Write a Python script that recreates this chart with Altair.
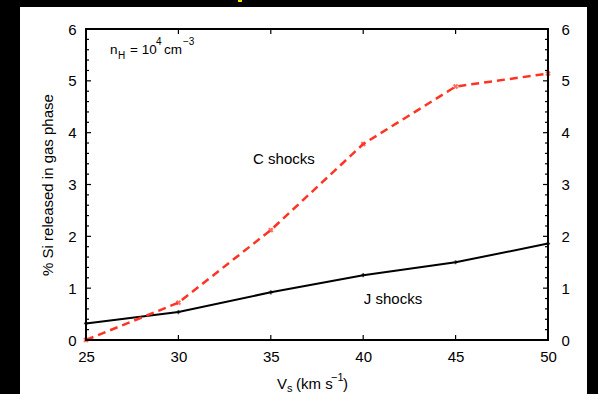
import altair as alt
import pandas as pd

# ---- data ----
vs = [25, 30, 35, 40, 45, 50]
j_shocks = [0.32, 0.54, 0.92, 1.25, 1.50, 1.86]
c_shocks = [0.00, 0.72, 2.12, 3.78, 4.89, 5.14]
x_ticks = [25, 30, 35, 40, 45, 50]
y_major = [0, 1, 2, 3, 4, 5, 6]
y_minor = [0.2, 0.4, 0.6, 0.8, 1.2, 1.4, 1.6, 1.8, 2.2, 2.4, 2.6, 2.8,
           3.2, 3.4, 3.6, 3.8, 4.2, 4.4, 4.6, 4.8, 5.2, 5.4, 5.6, 5.8]
label_text = ["C shocks", "J shocks"]
label_x = [35.71, 41.61]
label_y = [3.49, 0.79]

W, H = 462, 311
F = "Liberation Sans"
RED = "#ff3322"

df = pd.DataFrame({"vs": vs, "j": j_shocks, "c": c_shocks})
xt = pd.DataFrame({"v": x_ticks})
ymaj = pd.DataFrame({"v": y_major})
ymin = pd.DataFrame({"v": y_minor})
labs = pd.DataFrame({"x": label_x, "y": label_y, "t": label_text})
one = pd.DataFrame({"a": [0]})

xs = alt.Scale(domain=[25, 50], nice=False, zero=False)
ys = alt.Scale(domain=[0, 6], nice=False, zero=False)


def xnone(f):
    return alt.X(f, type="quantitative", scale=xs, axis=None)


def ynone(f):
    return alt.Y(f, type="quantitative", scale=ys, axis=None)


def txt(s, x, y, size, angle=0, align="left", baseline="alphabetic"):
    return alt.Chart(one).mark_text(
        text=s, fontSize=size, font=F, color="black", align=align,
        baseline=baseline, angle=angle
    ).encode(x=alt.value(x), y=alt.value(y))


bg = alt.Chart(one).mark_rect(color="white").encode(
    x=alt.value(-66), x2=alt.value(501), y=alt.value(-22), y2=alt.value(365))
speck = alt.Chart(one).mark_rect(color="#f0e000").encode(
    x=alt.value(152), x2=alt.value(156), y=alt.value(-29), y2=alt.value(-27))

j_line = alt.Chart(df).mark_line(color="black", strokeWidth=2).encode(
    x=alt.X("vs:Q", scale=xs, axis=alt.Axis(values=x_ticks, ticks=False, domain=False,
                                            grid=False, labelPadding=9, title=None,
                                            labelFlush=False,
                                            format="d", orient="bottom", zindex=2)),
    y=alt.Y("j:Q", scale=ys, axis=alt.Axis(values=y_major, ticks=False, domain=False,
                                           grid=False, labelPadding=10, title=None,
                                           labelFlush=False, orient="left", zindex=2)),
)
j_pts = alt.Chart(df).mark_point(shape="cross", filled=True, color="black", size=18).encode(
    x=xnone("vs"), y=ynone("j"))

c_line = alt.Chart(df).mark_line(color=RED, strokeWidth=2.5, strokeDash=[8, 5]).encode(
    x=xnone("vs"),
    y=alt.Y("c:Q", scale=ys, axis=alt.Axis(values=y_major, ticks=False, domain=False,
                                           grid=False, labelPadding=13, title=None,
                                           labelFlush=False, orient="right", zindex=2)),
)
c_pts = alt.Chart(df).mark_point(shape="cross", filled=True, color=RED, size=30, angle=45).encode(
    x=xnone("vs"), y=ynone("c"))

tick_b = alt.Chart(xt).mark_rule(color="black", strokeWidth=1.2).encode(
    x=xnone("v"), y=alt.value(H), y2=alt.value(H - 5))
tick_t = alt.Chart(xt).mark_rule(color="black", strokeWidth=1.2).encode(
    x=xnone("v"), y=alt.value(0), y2=alt.value(5))
tick_lM = alt.Chart(ymaj).mark_rule(color="black", strokeWidth=1.2).encode(
    y=ynone("v"), x=alt.value(0), x2=alt.value(5))
tick_rM = alt.Chart(ymaj).mark_rule(color="black", strokeWidth=1.2).encode(
    y=ynone("v"), x=alt.value(W), x2=alt.value(W - 5))
tick_lm = alt.Chart(ymin).mark_rule(color="black", strokeWidth=1.2).encode(
    y=ynone("v"), x=alt.value(0), x2=alt.value(3))
tick_rm = alt.Chart(ymin).mark_rule(color="black", strokeWidth=1.2).encode(
    y=ynone("v"), x=alt.value(W), x2=alt.value(W - 3))

frame = alt.Chart(one).mark_rect(fillOpacity=0, stroke="black", strokeWidth=2).encode(
    x=alt.value(0), x2=alt.value(W), y=alt.value(0), y2=alt.value(H))

labels = alt.Chart(labs).mark_text(font=F, fontSize=15, color="black", align="center",
                                   baseline="middle").encode(
    x=xnone("x"), y=ynone("y"), text="t:N")

texts = [
    # y title
    txt("% Si released in gas phase", -38, 156, 15, angle=270, align="center", baseline="middle"),
    # x title
    txt("V", 191, 360, 15),
    txt("s", 201, 363, 11),
    txt("(km s", 210, 360, 15),
    txt("\u22121", 245, 352, 11),
    txt(")", 257, 360, 15),
    # n_H label
    txt("n", 24, 25, 13.5),
    txt("H", 32, 30, 10),
    txt("= 10", 44, 25, 13.5),
    txt("4", 70, 16, 10),
    txt("cm", 78, 25, 13.5),
    txt("\u22123", 97, 16, 10),
]

chart = alt.layer(
    bg, speck, j_line, c_line, j_pts, c_pts,
    tick_b, tick_t, tick_lM, tick_rM, tick_lm, tick_rm, frame, labels, *texts
).resolve_axis(x="independent", y="independent").properties(
    width=W, height=H, background="black",
    autosize=alt.AutoSizeParams(type="none"),
    padding={"left": 86, "top": 29, "right": 50, "bottom": 54},
).configure_view(strokeWidth=0).configure_axis(
    labelFont=F, labelFontSize=15, labelColor="black"
)

chart.save("out.html", embed_options={"renderer": "svg", "actions": False})
